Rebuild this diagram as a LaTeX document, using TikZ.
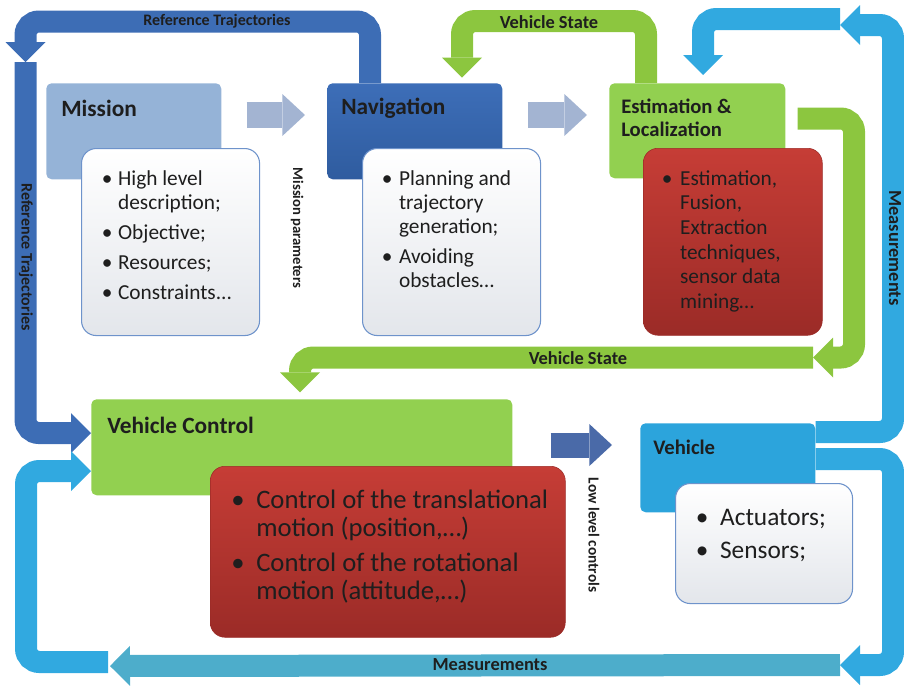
\documentclass[tikz,border=0pt]{standalone}
\usepackage{fontspec}
\setmainfont{Carlito}
\usepackage{tikz}
\usetikzlibrary{arrows.meta}
\definecolor{missionblue}{HTML}{95B3D7}
\definecolor{navblue}{HTML}{3D6EB8}
\definecolor{navbluedark}{HTML}{2F5C9F}
\definecolor{estgreen}{HTML}{92D050}
\definecolor{arrowgreen}{HTML}{8CC63F}
\definecolor{redtop}{HTML}{C63D36}
\definecolor{redbottom}{HTML}{9B2B27}
\definecolor{vehcyan}{HTML}{2CA4DC}
\definecolor{arrowcyan}{HTML}{31A9E0}
\definecolor{measteal}{HTML}{4DADCB}
\definecolor{refblue}{HTML}{3D6DB5}
\definecolor{paleblue}{HTML}{A3B4D2}
\definecolor{lowblue}{HTML}{4A6AA8}
\definecolor{listborder}{HTML}{6E93CB}
\definecolor{listbottom}{HTML}{E3E6EB}
\definecolor{inktext}{HTML}{1E1E1E}

\begin{document}
\begin{tikzpicture}[x=0.75pt,y=-0.75pt]
  \tikzstyle{header}=[rectangle, rounded corners=4pt, anchor=north west, inner sep=0pt]
  \tikzstyle{itembox}=[rectangle, rounded corners=11pt, anchor=north west, inner sep=0pt, draw=listborder, line width=0.8pt, top color=white, bottom color=listbottom]
  \tikzstyle{redbox}=[rectangle, rounded corners=11pt, anchor=north west, inner sep=0pt, draw=redbottom, top color=redtop, bottom color=redbottom]
  \tikzstyle{boxtitle}=[anchor=west, inner sep=0pt, text=inktext, font=\bfseries\fontsize{17.5}{20}\selectfont]
  \tikzstyle{itemtext}=[anchor=base west, inner sep=0pt, text=inktext, align=left]
  \tikzstyle{band}=[line width=16.5pt, rounded corners=10pt, -{Triangle[length=15pt,width=30pt,line width=0pt]}]
  \tikzstyle{fatarrow}=[line width=19.5pt, -{Triangle[length=17pt,width=31.5pt,line width=0pt]}]
  \tikzstyle{bandtext}=[inner sep=0pt, text=inktext, font=\bfseries\fontsize{13.8}{16}\selectfont]
  \useasboundingbox (0,0) rectangle (904,686);

  % boxes
  \node[header, fill=missionblue, minimum width=131.25pt, minimum height=72pt] (mission) at (46,83) {};
  \node[header, top color=navblue, bottom color=navbluedark, minimum width=131.25pt, minimum height=72pt] (nav) at (327,83) {};
  \node[header, fill=estgreen, minimum width=132pt, minimum height=71.25pt] (est) at (609,83) {};
  \node[header, fill=estgreen, minimum width=315.75pt, minimum height=72pt] (vc) at (91,399) {};
  \node[header, fill=vehcyan, minimum width=131.25pt, minimum height=66.75pt] (veh) at (640,423) {};

  \node[itembox, minimum width=133.5pt, minimum height=140.25pt] (missionlist) at (81,148) {};
  \node[itembox, minimum width=133.5pt, minimum height=140.25pt] (navlist) at (362,148) {};
  \node[redbox, minimum width=134.25pt, minimum height=140.25pt] (estlist) at (643,148) {};
  \node[redbox, minimum width=266.25pt, minimum height=128.25pt] (vclist) at (210,466) {};
  \node[itembox, minimum width=132.75pt, minimum height=90pt] (vehlist) at (675,483) {};

  % titles
  \node[boxtitle] (missiontitle) at (61,108) {Mission};
  \node[boxtitle] (navtitle) at (341,108) {Navigation};
  \node[boxtitle, align=left, font=\bfseries\fontsize{15.5}{17.25}\selectfont] (esttitle) at (621,117.5) {Estimation \&\\Localization};
  \node[boxtitle] (vctitle) at (107,425) {Vehicle Control};
  \node[boxtitle, font=\bfseries\fontsize{15.5}{18}\selectfont] (vehtitle) at (653,447) {Vehicle};

  % bullet lists
  \node[itemtext, font=\fontsize{16}{18}\selectfont] (missionitems) at (101.5,185) {\begin{tabular}[t]{@{}l@{\hspace{4.3pt}}l@{}}
    \textbullet & High level\\ & description;\\[4.5pt]
    \textbullet & Objective;\\[4.5pt]
    \textbullet & Resources;\\[4.5pt]
    \textbullet & Constraints...\end{tabular}};
  \node[itemtext, font=\fontsize{16}{18}\selectfont] (navitems) at (381.5,185) {\begin{tabular}[t]{@{}l@{\hspace{5pt}}l@{}}
    \textbullet & Planning and\\ & trajectory\\ & generation;\\[4.5pt]
    \textbullet & Avoiding\\ & obstacles…\end{tabular}};
  \node[itemtext, font=\fontsize{16}{18.5}\selectfont] (estitems) at (661.5,185) {\begin{tabular}[t]{@{}l@{\hspace{5.8pt}}l@{}}
    \textbullet & Estimation,\\ & Fusion,\\ & Extraction\\ & techniques,\\ & sensor data\\ & mining…\end{tabular}};
  \node[itemtext, font=\fontsize{20}{21}\selectfont] (vcitems) at (231,508.5) {\begin{tabular}[t]{@{}l@{\hspace{8.8pt}}l@{}}
    \textbullet & Control of the translational\\ & motion (position,…)\\[5.25pt]
    \textbullet & Control of the rotational\\ & motion (attitude,…)\end{tabular}};
  \node[itemtext, font=\fontsize{19}{24.75}\selectfont] (vehitems) at (695.5,525) {\begin{tabular}[t]{@{}l@{\hspace{8.8pt}}l@{}}
    \textbullet & Actuators;\\
    \textbullet & Sensors;\end{tabular}};

  % named free ends
  \coordinate (refturn) at (25.5,62);
  \coordinate (vsturn) at (813,357.5);
  \coordinate (meastop) at (840,19);
  \coordinate (measreturn) at (840,25);
  \coordinate (measbottom) at (840,665);
  \coordinate (measleft) at (110,666);
  \coordinate (loopstart) at (108,662);

  % bands
  \draw[band, draw=refblue] (nav.north -| 370,0) |- (25.5,21.5) -- (refturn);
  \draw[band, draw=refblue] (refturn) |- (vc.west |- 0,433);
  \draw[band, draw=arrowgreen, shorten >=4pt] (est.north -| 646,0) -- (646,21) -| (nav.north -| 462,0);
  \draw[band, draw=arrowgreen] (est.east |- 0,118.5) ++(12,0) -| (854,357.5) -- (vsturn);
  \draw[band, draw=arrowgreen, shorten >=5pt] (vsturn) -| (vc.north -| 300,0);
  \draw[band, draw=arrowcyan, shorten >=6pt] (meastop) -| (est.north -| 703,0);
  \draw[band, draw=arrowcyan] (veh.east |- 0,432) -| (893,25) -- (measreturn);
  \draw[band, draw=arrowcyan] (veh.east |- 0,459) -| (893,665) -- (measbottom);
  \draw[band, draw=measteal] (measbottom) -- (measleft);
  \draw[band, draw=arrowcyan] (loopstart) -| (26,471) -- (vc.west |- 0,471);

  % block arrows
  \draw[fatarrow, draw=paleblue, shorten <=18.75pt, shorten >=16.5pt] (mission.east |- 0,115) -- (nav.west |- 0,115);
  \draw[fatarrow, draw=paleblue, shorten <=18.75pt, shorten >=16.5pt] (nav.east |- 0,115) -- (est.west |- 0,115);
  \draw[fatarrow, draw=lowblue, line width=18.75pt, shorten <=28.5pt, shorten >=21pt] (vc.east |- 0,445) -- (veh.west |- 0,445);

  % labels
  \node[bandtext, font=\bfseries\fontsize{12}{14}\selectfont] (reftoplabel) at (217,21) {Reference Trajectories};
  \node[bandtext, rotate=-90, font=\bfseries\fontsize{12}{14}\selectfont] (refsidelabel) at (26,257) {Reference Trajectories};
  \node[bandtext] (vstoplabel) at (549,22) {Vehicle State};
  \node[bandtext] (vsbottomlabel) at (578,358) {Vehicle State};
  \node[bandtext] (measbottomlabel) at (490,665) {Measurements};
  \node[bandtext, rotate=-90] (measrightlabel) at (895,248) {Measurements};
  \node[bandtext, rotate=-90, font=\bfseries\fontsize{11}{13}\selectfont] (missionparams) at (297,228) {Mission parameters};
  \node[bandtext, rotate=-90, font=\bfseries\fontsize{11.5}{13}\selectfont] (lowlevel) at (594,535) {Low level controls};
\end{tikzpicture}
\end{document}
